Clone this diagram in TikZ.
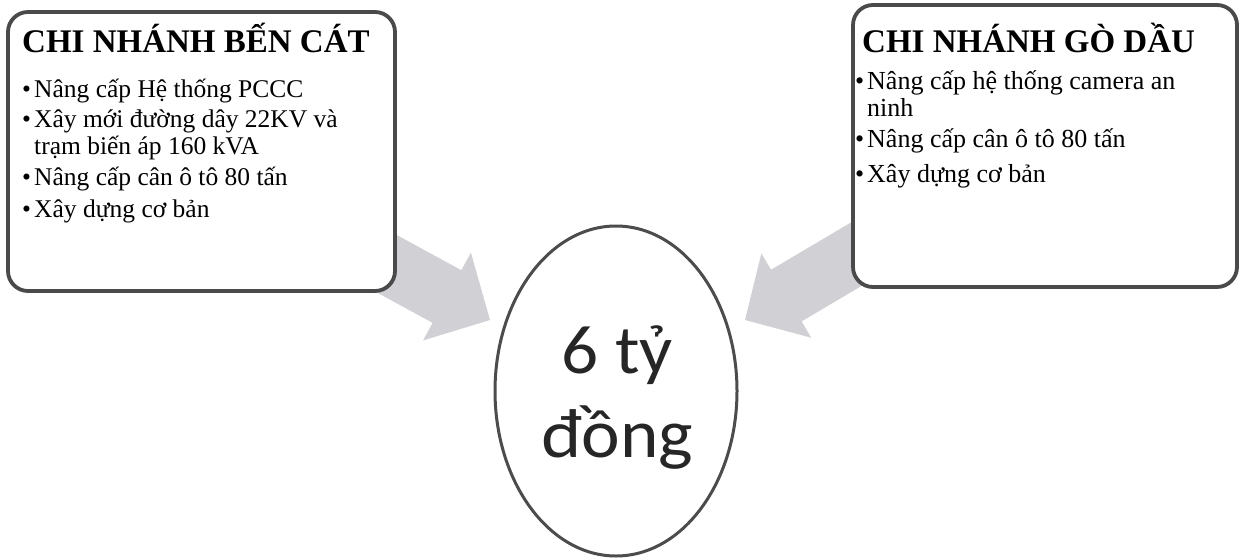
\documentclass[tikz,border=0pt]{standalone}
\usepackage{fontspec}
\setmainfont{Liberation Serif}
\newfontfamily\calib{Carlito}
\definecolor{arrowgray}{RGB}{208,208,213}
\definecolor{boxline}{RGB}{74,74,74}
\tikzset{
  boxframe/.style={draw=boxline, line width=3.8pt, fill=white, rounded corners=20pt},
  blockarrow/.style={fill=arrowgray},
  titletext/.style={anchor=base west, inner sep=0pt, font=\bfseries\fontsize{#1}{#1}\selectfont},
  itemtext/.style={anchor=base west, inner sep=0pt, font=\fontsize{#1}{#1}\selectfont},
  sumtext/.style={anchor=base, inner sep=0pt, font=\calib\fontsize{69}{69}\selectfont, text=black!85, xscale=1.06}
}
\begin{document}
\begin{tikzpicture}[x=1pt,y=1pt]
\useasboundingbox (0,0) rectangle (1239,558);
% block arrows (behind boxes)
\begin{scope}[shift={(490,238)}, rotate=-28.6]
  \coordinate (ltip) at (0,0);
  \fill[blockarrow] (ltip) -- (-49,50) -- (-49,30) -- (-260,30) -- (-260,-30) -- (-49,-30) -- (-49,-50) -- cycle;
\end{scope}
\begin{scope}[shift={(745,238)}, rotate=210.6]
  \coordinate (rtip) at (0,0);
  \fill[blockarrow] (rtip) -- (-48,49) -- (-48,30) -- (-260,30) -- (-260,-30) -- (-48,-30) -- (-48,-49) -- cycle;
\end{scope}
% boxes
\draw[boxframe] (8,267) rectangle (395,546);
\draw[boxframe] (853,271) rectangle (1237,553);
% centre ellipse
\draw[draw=black!70, line width=3pt, fill=white] (616,167) ellipse [x radius=121, y radius=165];
\node[sumtext] (sum1) at (617,185) {6 tỷ};
\node[sumtext] (sum2) at (617,101) {đồng};
% left box text
\node[titletext=33] (lt) at (22,505) {CHI NHÁNH BẾN CÁT};
\node[itemtext=25.5] (lb1) at (22,460) {•};
\node[itemtext=25.5] (l1) at (34,460) {Nâng cấp Hệ thống PCCC};
\node[itemtext=25.5] (lb2) at (22,430) {•};
\node[itemtext=25.5] (l2a) at (34,430) {Xây mới đường dây 22KV và};
\node[itemtext=25.5] (l2b) at (34,403) {trạm biến áp 160 kVA};
\node[itemtext=25.5] (lb3) at (22,373) {•};
\node[itemtext=25.5] (l3) at (34,373) {Nâng cấp cân ô tô 80 tấn};
\node[itemtext=25.5] (lb4) at (22,341) {•};
\node[itemtext=25.5] (l4) at (34,341) {Xây dựng cơ bản};
% right box text
\node[titletext=33] (rt) at (862,505) {CHI NHÁNH GÒ DẦU};
\node[itemtext=26] (rb1) at (855,468) {•};
\node[itemtext=26] (r1a) at (867,468) {Nâng cấp hệ thống camera an};
\node[itemtext=26] (r1b) at (867,441) {ninh};
\node[itemtext=26] (rb2) at (855,410) {•};
\node[itemtext=26] (r2) at (867,410) {Nâng cấp cân ô tô 80 tấn};
\node[itemtext=26] (rb3) at (855,376) {•};
\node[itemtext=26] (r3) at (867,376) {Xây dựng cơ bản};
\end{tikzpicture}
\end{document}
